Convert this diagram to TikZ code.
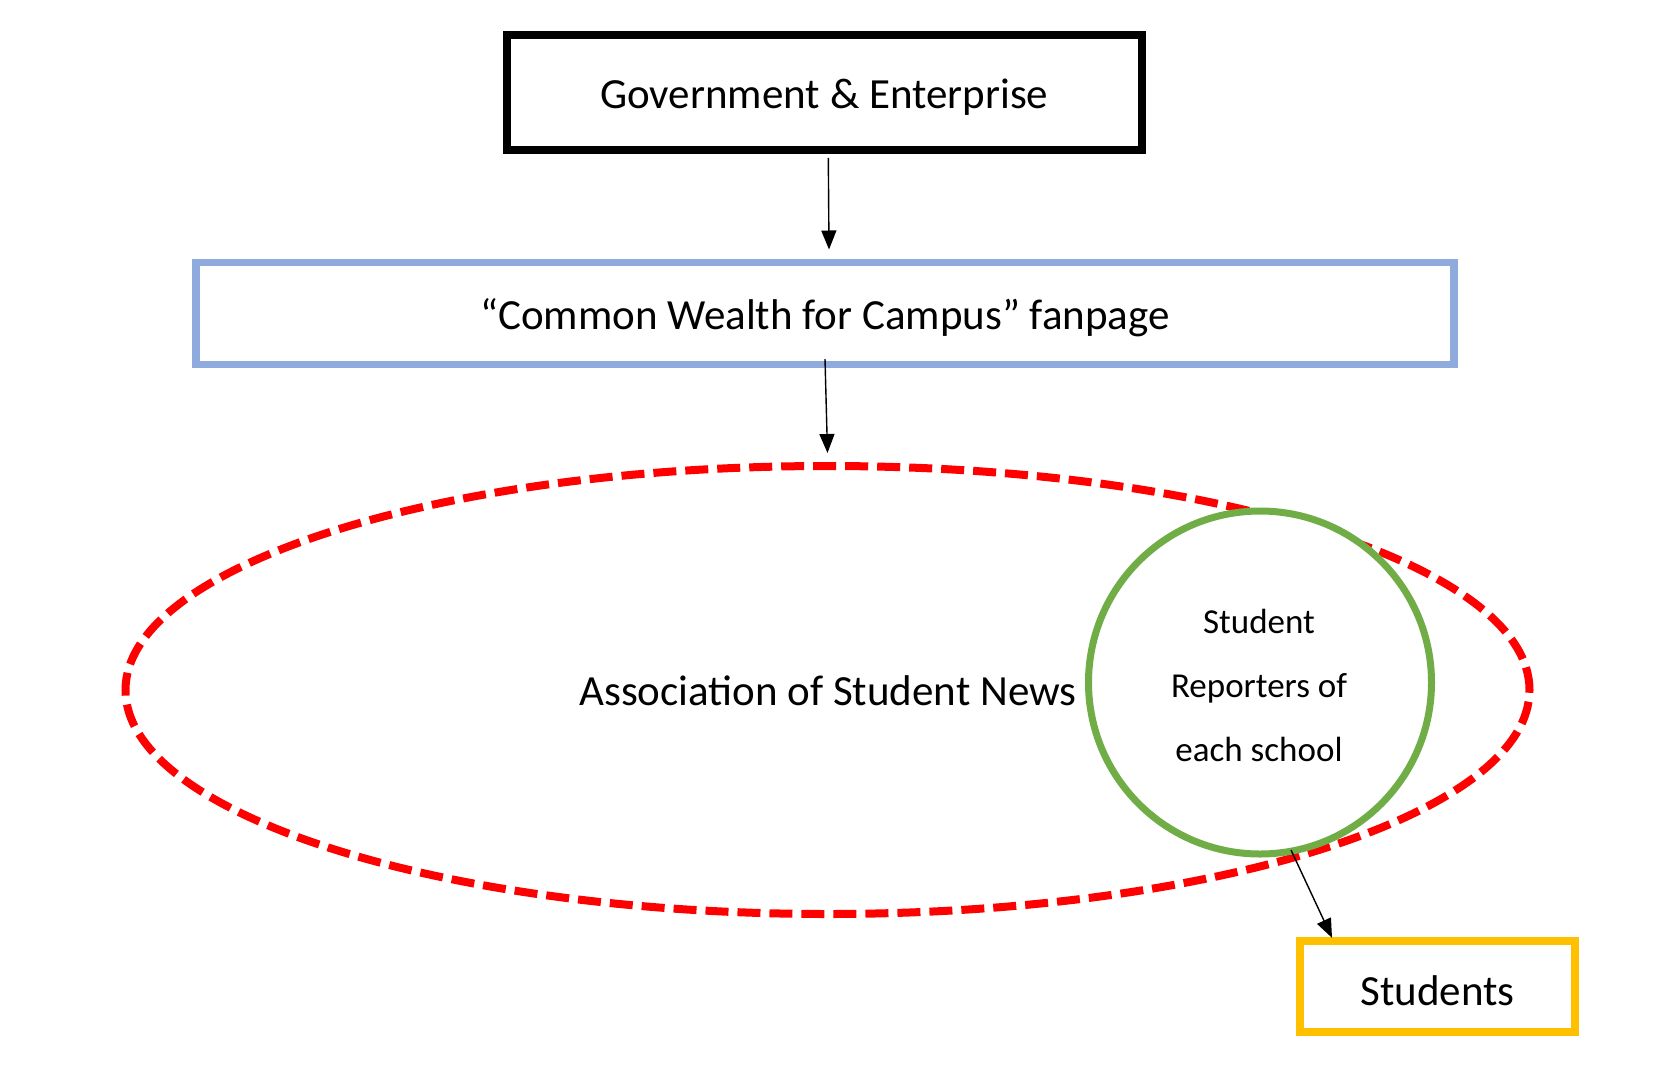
\documentclass[tikz,border=0pt]{standalone}
\usepackage{fontspec}
\setmainfont{Carlito}
\usetikzlibrary{arrows.meta,shapes.geometric}
\definecolor{boxblue}{HTML}{8FAADC}
\definecolor{cgreen}{HTML}{70AD47}
\definecolor{gold}{HTML}{FFC000}
\definecolor{dred}{HTML}{FF0000}
\newcommand{\lowtxt}[1]{\raisebox{-4.5pt}[\height][\depth]{#1}}
\begin{document}
\begin{tikzpicture}[x=1pt,y=-1pt,
  lbl/.style={font=\fontsize{43}{50}\selectfont, text=black},
  govbox/.style={draw=black, line width=8pt, inner sep=0pt, minimum width=635pt, minimum height=115pt, lbl},
  fanbox/.style={draw=boxblue, line width=7.6pt, inner sep=0pt, minimum width=1258pt, minimum height=102pt, lbl},
  studbox/.style={draw=gold, line width=8pt, inner sep=0pt, minimum width=275pt, minimum height=91pt, lbl},
  assoc/.style={ellipse, draw=dred, line width=8pt, dash pattern=on 23pt off 9pt, inner sep=0pt, minimum width=1404pt, minimum height=448pt},
  repcirc/.style={circle, draw=cgreen, fill=white, line width=7pt, inner sep=0pt, minimum size=343pt},
  arr/.style={draw=black, line width=1.4pt, -{Triangle[length=19pt,width=15pt]}}
]
\useasboundingbox (0,0) rectangle (1670,1090);
\node[govbox] (gov) at (824.3,92.3) {\lowtxt{Government \& Enterprise}};
\node[fanbox] (fan) at (825,313.3) {\lowtxt{“Common Wealth for Campus” fanpage}};
\node[assoc] (assn) at (827.5,690) {};
\node[lbl] (assnlbl) at (828,691) {Association of Student News};
\node[repcirc] (rep) at (1260,682.5) {};
\node[font=\fontsize{35}{64}\selectfont, align=center] (replbl) at (1259,685) {Student\\Reporters of\\each school};
\node[studbox] (stud) at (1437.5,986.3) {\lowtxt{Students}};
\coordinate (a3s) at (1291,850);
\coordinate (a3e) at ([xshift=36pt,yshift=-1pt]stud.north west);
\draw[arr] ([xshift=4pt,yshift=-4pt]gov.south) -- ([xshift=4pt,yshift=9pt]fan.north);
\draw[arr] ([yshift=9pt]fan.south) -- ([yshift=9pt]assn.north);
\draw[arr] (a3s) -- (a3e);
\end{tikzpicture}
\end{document}
